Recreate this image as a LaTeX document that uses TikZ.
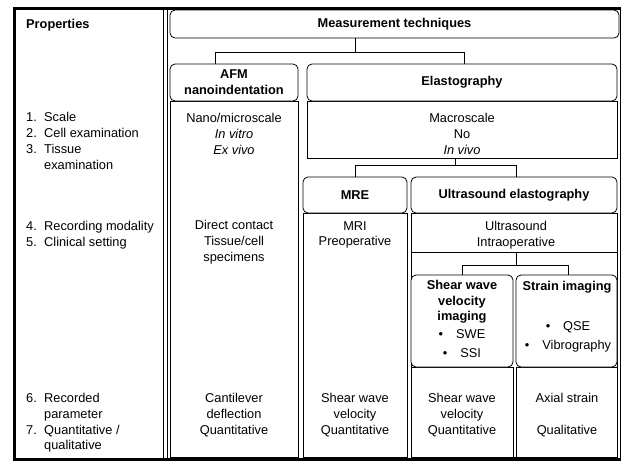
\documentclass[tikz,border=0pt]{standalone}
\usepackage{fontspec}
\setmainfont{Liberation Sans}
\usetikzlibrary{fit}
\def\fs{\fontsize{12.8pt}{15.7pt}\selectfont}
\tikzset{
  boxline/.style={draw, line width=0.8pt, inner sep=0pt, outer sep=0pt},
  colbox/.style={boxline, rectangle},
  headbox/.style={boxline, rounded corners=5pt},
  txt/.style={font=\fs, align=center, inner sep=0pt},
  btxt/.style={txt, font=\fs\bfseries},
  oneline/.style={txt, text height=9.2pt, text depth=2.7pt},
  link/.style={line width=0.8pt},
}
\begin{document}
\begin{tikzpicture}[x=1pt,y=-1pt]
\useasboundingbox (0,0) rectangle (621,461);
% properties column
\node[colbox, fit={(14,8) (163,458)}] (props) {};
\draw[link] (167,8) -- (167,458);
\node[btxt, anchor=west] (proptitle) at (26,25) {Properties};
\foreach \n/\y/\t in {1/118/Scale, 2/134/Cell examination, 3/150/Tissue,
  4/227/Recording modality, 5/243/Clinical setting, 6/399/Recorded, 7/431/{Quantitative /}}
  {\node[oneline, anchor=west] (num\n) at (26,\y) {\n.};
   \node[oneline, anchor=west] (item\n) at (44,\y) {\t};}
\node[oneline, anchor=west] (item3b) at (44,166) {examination};
\node[oneline, anchor=west] (item6b) at (44,415) {parameter};
\node[oneline, anchor=west] (item7b) at (44,446) {qualitative};
% measurement techniques
\node[headbox, fit={(170,10) (619,38)}] (meas) {};
\node[btxt] (meastxt) at (meas.center) {Measurement techniques};
% AFM
\node[colbox, fit={(170,101) (298,457)}] (afmbody) {};
\node[headbox, fill=white, fit={(170,64) (298,101)}] (afm) {};
\node[btxt] (afmtxt) at (afm.center) {AFM\\nanoindentation};
\node[txt] (afm1) at (234,134) {Nano/microscale\\\textit{In vitro}\\\textit{Ex vivo}};
\node[txt] (afm2) at (234,242) {Direct contact\\Tissue/cell\\specimens};
\node[txt] (afm3) at (234,415) {Cantilever\\deflection\\Quantitative};
% elastography
\node[colbox, fit={(307,101) (617,158)}] (elabody) {};
\node[headbox, fill=white, fit={(307,64) (617,101)}] (ela) {};
\node[btxt] (elatxt) at (ela.center) {Elastography};
\node[txt] (ela1) at (462,134) {Macroscale\\No\\\textit{In vivo}};
% MRE
\node[colbox, fit={(303,213) (407,457)}] (mrebody) {};
\node[headbox, fill=white, fit={(303,177) (407,213)}] (mre) {};
\node[btxt] (mretxt) at (mre.center) {MRE};
\node[txt] (mre1) at (355,235) {MRI\\Preoperative};
\node[txt] (mre2) at (355,415) {Shear wave\\velocity\\Quantitative};
% ultrasound elastography
\node[colbox, fit={(411,252) (617,457)}] (uscol) {};
\node[colbox, fit={(411,213) (617,252)}] (usbody) {};
\node[headbox, fill=white, fit={(411,177) (617,213)}] (us) {};
\node[btxt] (ustxt) at (us.center) {Ultrasound elastography};
\node[txt] (us1) at (516,235) {Ultrasound\\Intraoperative};
% shear wave velocity imaging
\node[colbox, fit={(411,367) (513,457)}] (swvbody) {};
\node[headbox, fill=white, fit={(411,275) (513,367)}] (swv) {};
\node[btxt] (swvtxt) at (462,302) {Shear wave\\velocity\\imaging};
\node[oneline] (swe) at (462,335) {\textbullet\hspace{13pt}SWE};
\node[oneline] (ssi) at (462,354) {\textbullet\hspace{13pt}SSI};
\node[txt] (swv1) at (462,415) {Shear wave\\velocity\\Quantitative};
% strain imaging
\node[colbox, fit={(516,367) (617,457)}] (strainbody) {};
\node[headbox, fill=white, fit={(516,275) (617,367)}] (strain) {};
\node[btxt] (straintxt) at (567,287) {Strain imaging};
\node[oneline] (qse) at (568,327) {\textbullet\hspace{13pt}QSE};
\node[oneline] (vibro) at (568,346) {\textbullet\hspace{13pt}Vibrography};
\node[oneline] (strain1) at (567,399) {Axial strain};
\node[oneline] (strain2) at (567,431) {Qualitative};
% connectors
\coordinate (fork1) at (355,52);
\coordinate (fork1a) at (215,52);
\coordinate (fork1b) at (464,52);
\draw[link] (meas.south -| fork1) -- (fork1);
\draw[link] (fork1a |- afm.north) -- (fork1a) -- (fork1b) -- (fork1b |- ela.north);
\coordinate (fork2) at (455,165);
\coordinate (fork2a) at (355,165);
\coordinate (fork2b) at (516,165);
\draw[link] (elabody.south -| fork2) -- (fork2);
\draw[link] (fork2a |- mre.north) -- (fork2a) -- (fork2b) -- (fork2b |- us.north);
\coordinate (fork3) at (516,265);
\coordinate (fork3a) at (462,265);
\coordinate (fork3b) at (568,265);
\draw[link] (usbody.south -| fork3) -- (fork3);
\draw[link] (fork3a |- swv.north) -- (fork3a) -- (fork3b) -- (fork3b |- strain.north);
% outer frame
\draw[line width=0.8pt] (620,8) -- (620,459);
\draw[line width=3pt] (621,8.5) -- (14.5,8.5) -- (14.5,459) -- (621,459);
\end{tikzpicture}
\end{document}
